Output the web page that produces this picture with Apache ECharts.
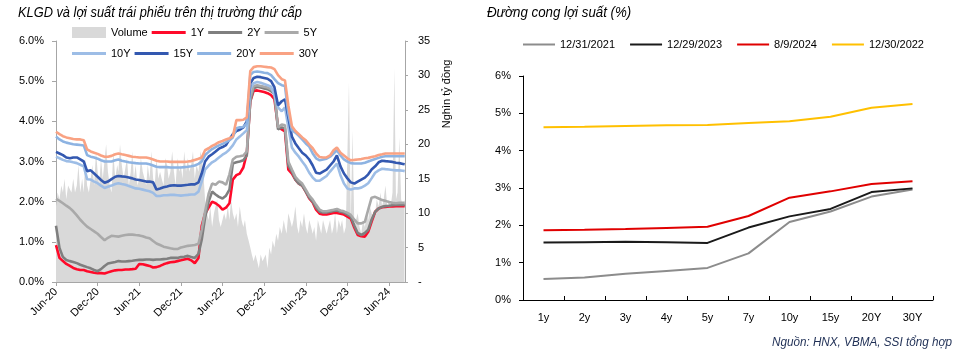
<!DOCTYPE html>
<html><head><meta charset="utf-8">
<script src="https://cdn.jsdelivr.net/npm/echarts@6/dist/echarts.min.js"></script>
<style>html,body{margin:0;padding:0;background:#fff}#c{width:960px;height:359px}</style>
</head><body><div id="c"></div>
<script>
const FONT = "'Liberation Sans Narrow','Arial Narrow','Liberation Sans',Arial,sans-serif";

// ---------- Left chart data ----------
// semi-monthly observation dates (1st and 16th), Jun-2020 .. 9-Aug-2024
const lineDates = (function () {
  const out = [];
  for (let y = 2020, m = 6; y < 2024 || (y === 2024 && m <= 7); m === 12 ? (y++, m = 1) : m++) {
    const mm = String(m).padStart(2, '0');
    out.push(y + '-' + mm + '-01', y + '-' + mm + '-16');
  }
  out.push('2024-08-01', '2024-08-09');
  return out;
})();

const y1Y = [0.92,0.60,0.52,0.45,0.40,0.35,0.32,0.30,0.30,0.27,
  0.25,0.23,0.22,0.22,0.21,0.24,0.27,0.29,0.30,0.30,
  0.31,0.31,0.32,0.33,0.45,0.44,0.42,0.40,0.36,0.37,
  0.40,0.44,0.47,0.49,0.50,0.52,0.54,0.56,0.58,0.54,
  0.47,0.60,1.40,1.70,1.85,2.00,1.96,1.90,1.80,1.85,
  1.96,2.55,2.66,2.70,2.85,3.20,4.50,4.76,4.77,4.75,
  4.73,4.70,4.65,4.55,3.86,3.80,3.75,2.80,2.70,2.55,
  2.45,2.40,2.25,2.08,1.98,1.80,1.70,1.68,1.68,1.70,
  1.72,1.72,1.70,1.68,1.63,1.58,1.35,1.17,1.14,1.13,
  1.25,1.50,1.75,1.83,1.86,1.87,1.88,1.88,1.89,1.89,
  1.89,1.89];
const y2Y = [1.40,0.85,0.62,0.55,0.52,0.50,0.47,0.43,0.40,0.37,
  0.34,0.30,0.27,0.32,0.40,0.46,0.48,0.50,0.52,0.51,
  0.51,0.52,0.53,0.54,0.55,0.55,0.56,0.56,0.55,0.56,
  0.56,0.57,0.58,0.60,0.60,0.60,0.62,0.63,0.65,0.62,
  0.60,0.70,1.05,1.60,2.00,2.25,2.18,2.12,2.08,2.15,
  2.30,2.95,2.98,3.00,3.03,3.15,4.50,4.82,4.86,4.84,
  4.82,4.80,4.75,4.68,3.80,3.85,3.82,2.90,2.75,2.55,
  2.45,2.40,2.25,2.10,2.00,1.85,1.75,1.73,1.73,1.75,
  1.77,1.78,1.75,1.73,1.68,1.63,1.40,1.22,1.17,1.22,
  1.30,1.55,1.75,1.83,1.87,1.89,1.90,1.91,1.92,1.92,
  1.92,1.92];
const y5Y = [2.07,2.02,1.96,1.90,1.84,1.76,1.66,1.55,1.46,1.38,
  1.32,1.26,1.20,1.12,1.04,1.10,1.15,1.14,1.13,1.15,
  1.17,1.18,1.18,1.17,1.16,1.14,1.11,1.09,1.02,0.96,
  0.92,0.88,0.86,0.84,0.82,0.82,0.86,0.88,0.90,0.91,
  0.92,0.95,1.30,1.75,2.20,2.45,2.42,2.50,2.48,2.42,
  2.68,3.05,3.12,3.13,3.15,3.25,4.60,4.88,4.90,4.88,
  4.86,4.84,4.80,4.72,3.85,3.92,3.90,3.00,2.80,2.62,
  2.52,2.45,2.30,2.15,2.05,1.92,1.80,1.76,1.76,1.78,
  1.80,1.82,1.78,1.76,1.72,1.67,1.55,1.46,1.46,1.50,
  1.80,2.10,2.12,2.08,2.04,2.02,1.99,1.97,1.96,1.97,
  1.97,1.97];
const y10Y = [3.12,3.08,3.04,3.01,3.00,2.98,2.96,2.92,2.88,2.56,
  2.55,2.50,2.46,2.40,2.34,2.37,2.40,2.44,2.46,2.44,
  2.42,2.39,2.36,2.33,2.32,2.30,2.28,2.26,2.22,2.14,
  2.14,2.16,2.16,2.17,2.17,2.16,2.15,2.16,2.17,2.18,
  2.18,2.25,2.50,2.80,2.90,2.98,3.03,3.10,3.17,3.22,
  3.30,3.40,3.55,3.62,3.70,3.78,4.80,4.95,4.98,4.96,
  4.93,4.90,4.86,4.65,4.35,4.25,4.35,3.85,3.35,3.22,
  3.12,3.00,2.88,2.72,2.60,2.52,2.52,2.58,2.64,2.75,
  2.85,2.95,2.66,2.45,2.33,2.30,2.33,2.33,2.35,2.40,
  2.46,2.58,2.72,2.78,2.82,2.81,2.80,2.79,2.78,2.78,
  2.77,2.76];
const y15Y = [3.24,3.20,3.16,3.10,3.08,3.10,3.10,3.05,3.00,2.76,
  2.78,2.70,2.62,2.54,2.47,2.50,2.56,2.62,2.64,2.63,
  2.62,2.60,2.58,2.55,2.54,2.52,2.50,2.50,2.48,2.30,
  2.33,2.36,2.38,2.40,2.41,2.40,2.40,2.41,2.42,2.43,
  2.43,2.48,2.70,3.00,3.12,3.18,3.25,3.32,3.36,3.41,
  3.55,3.68,3.76,3.79,3.85,4.00,4.95,5.08,5.11,5.10,
  5.08,5.06,5.00,4.85,4.40,4.50,4.55,4.10,3.62,3.45,
  3.33,3.22,3.15,3.05,2.90,2.72,2.70,2.75,2.80,2.90,
  3.00,3.15,2.88,2.70,2.58,2.48,2.45,2.50,2.55,2.60,
  2.68,2.80,2.88,2.98,3.02,3.01,3.00,2.99,2.97,2.96,
  2.94,2.93];
const y20Y = [3.62,3.55,3.50,3.47,3.45,3.43,3.42,3.41,3.40,3.16,
  3.12,3.10,3.07,3.03,3.00,3.00,3.00,3.03,3.05,3.02,
  3.00,2.98,2.97,2.96,2.95,2.95,2.95,2.93,2.90,2.87,
  2.86,2.86,2.86,2.85,2.85,2.85,2.85,2.86,2.87,2.88,
  2.90,2.94,3.00,3.16,3.24,3.31,3.36,3.40,3.44,3.48,
  3.53,3.60,3.83,3.85,3.86,3.95,5.15,5.23,5.24,5.23,
  5.21,5.20,5.15,5.05,4.95,4.90,4.88,4.20,3.78,3.72,
  3.64,3.55,3.45,3.37,3.20,3.08,3.03,3.05,3.07,3.12,
  3.20,3.28,3.15,3.05,3.00,2.96,2.95,2.95,2.95,2.97,
  3.00,3.03,3.06,3.09,3.12,3.13,3.13,3.13,3.13,3.13,
  3.13,3.13];
const y30Y = [3.74,3.68,3.63,3.60,3.58,3.56,3.55,3.55,3.53,3.30,
  3.25,3.22,3.19,3.15,3.12,3.12,3.14,3.18,3.20,3.18,
  3.16,3.14,3.12,3.11,3.10,3.10,3.10,3.08,3.05,3.02,
  3.00,3.00,3.00,2.99,2.99,2.99,2.99,2.99,3.00,3.01,
  3.04,3.07,3.10,3.28,3.33,3.39,3.43,3.48,3.51,3.55,
  3.58,3.62,4.03,4.03,4.04,4.10,5.25,5.35,5.37,5.37,
  5.36,5.35,5.34,5.30,5.15,5.05,5.02,4.40,3.88,3.76,
  3.68,3.60,3.53,3.42,3.33,3.20,3.11,3.10,3.10,3.15,
  3.28,3.35,3.22,3.15,3.08,3.03,3.04,3.05,3.06,3.08,
  3.09,3.11,3.13,3.16,3.18,3.20,3.20,3.20,3.20,3.20,
  3.20,3.20];

// weekly trading volume (Nghìn tỷ đồng), 4 observations per month (days 1, 8, 16, 24)
const volMonthStart = '2020-06';
const volDays = [1, 8, 16, 24];
const volume = [
  11,13,12,14, 13,15,12,14, 14,13,15,13, 14,17,13,15, 13,18,14,13, 15,17,14,19, 16,14,18,15,
  15,20,16,14, 13,19,15,17, 16,20,17,15, 15,18,14,16, 19,15,17,14, 15,18,16,15,
  14,17,15,19, 15,14,18,15, 16,15,14,18, 17,15,16,19, 16,14,18,16, 17,15,19,16,
  18,16,17,19, 15,17,16,19, 18,16,12,10, 9,11,8,10, 10,12,9,8, 8,10,9,11,
  9,12,10,9, 10,8,11,9, 8,9,7,6, 5,4,3,4, 3,2,4,3, 3,4,2,5,
  4,6,5,7, 6,8,7,9, 8,7,10,9, 8,9,11,8, 7,9,8,10, 8,7,9,8,
  7,8,6,9, 8,7,9,8, 7,8,9,7, 8,10,7,9, 8,9,7,8, 8,29,9,22,
  8,9,10,8, 7,9,8,10, 9,11,10,9, 10,12,11,13, 11,12,14,11, 12,11,13,31,
  12,13,21,12, 11,12
];

const xTickLabels = ['Jun-20','Dec-20','Jun-21','Dec-21','Jun-22','Dec-22','Jun-23','Dec-23','Jun-24'];
const lineNames = ['1Y','2Y','5Y','10Y','15Y','20Y','30Y'];
const lineValues = [y1Y, y2Y, y5Y, y10Y, y15Y, y20Y, y30Y];
const lineColors = ['#ff0a2a','#7f7f7f','#a9a9a9','#9dbde6','#3358b0','#8db3e2','#f9a283'];

// ---------- Right chart data ----------
const tenors = ['1y','2y','3y','4y','5y','7y','10y','15y','20Y','30Y'];
const curveNames = ['12/31/2021','12/29/2023','8/9/2024','12/30/2022'];
const curve20211231 = [0.56,0.60,0.70,0.78,0.86,1.25,2.09,2.37,2.77,2.96];
const curve20231229 = [1.54,1.55,1.56,1.55,1.53,1.94,2.24,2.44,2.89,2.99];
const curve20240809 = [1.87,1.88,1.90,1.93,1.96,2.25,2.74,2.91,3.11,3.18];
const curve20221230 = [4.63,4.64,4.66,4.68,4.69,4.74,4.79,4.91,5.15,5.25];
const curveValues = [curve20211231, curve20231229, curve20240809, curve20221230];
const curveColors = ['#8c8c8c','#1a1a1a','#e00000','#ffc000'];

// ---------- helpers ----------
function monthOffset(s) {
  const p = s.split('-').map(Number);
  const dim = new Date(p[0], p[1], 0).getDate();
  return (p[0] - 2020) * 12 + (p[1] - 6) + (p[2] - 1) / dim;
}
const volDates = [];
(function () {
  let [y, m] = volMonthStart.split('-').map(Number);
  let i = 0;
  while (i < volume.length) {
    for (const d of volDays) {
      if (i >= volume.length) break;
      volDates.push(y + '-' + String(m).padStart(2, '0') + '-' + String(d).padStart(2, '0'));
      i++;
    }
    m++; if (m > 12) { m = 1; y++; }
  }
})();

const chart = echarts.init(document.getElementById('c'), null, { renderer: 'canvas' });
const axisGray = '#a6a6a6';
const txt = { fontFamily: FONT, fontSize: 11, color: '#000' };
const LEFT_ICON = 'path://M0,0H34V3H0Z';
const RIGHT_ICON = 'path://M0,0H32V2H0Z';

const series = [{
  name: 'Volume', type: 'line', xAxisIndex: 0, yAxisIndex: 1, symbol: 'none',
  data: volume.map((v, i) => [monthOffset(volDates[i]), v]),
  lineStyle: { width: 0, color: '#d9d9d9' }, areaStyle: { color: '#d9d9d9', opacity: 1 },
  itemStyle: { color: '#d9d9d9' }, z: 1, silent: true
}];
lineNames.forEach((n, k) => {
  series.push({
    name: n, type: 'line', xAxisIndex: 0, yAxisIndex: 0, symbol: 'none',
    data: lineValues[k].map((v, i) => [monthOffset(lineDates[i]), v]),
    lineStyle: { color: lineColors[k], width: 2.6 }, itemStyle: { color: lineColors[k] }, z: 2 + k
  });
});
curveNames.forEach((n, k) => {
  series.push({
    name: n, type: 'line', xAxisIndex: 1, yAxisIndex: 2, symbol: 'none',
    data: curveValues[k],
    lineStyle: { color: curveColors[k], width: 2 }, itemStyle: { color: curveColors[k] }
  });
});

const titleFont = 'italic 14px ' + FONT;
chart.setOption({
  animation: false,
  textStyle: { fontFamily: FONT },
  legend: [
    { data: [{ name: 'Volume', icon: 'rect' }, { name: '1Y', icon: LEFT_ICON }, { name: '2Y', icon: LEFT_ICON }, { name: '5Y', icon: LEFT_ICON }],
      left: 67, top: 22, itemWidth: 34, itemHeight: 11, itemGap: 4, textStyle: Object.assign({ width: 40 }, txt) },
    { data: ['10Y', '15Y', '20Y', '30Y'].map(n => ({ name: n, icon: LEFT_ICON })),
      left: 67, top: 43, itemWidth: 34, itemHeight: 11, itemGap: 4, textStyle: Object.assign({ width: 40 }, txt) },
    { data: curveNames.map(n => ({ name: n, icon: RIGHT_ICON })),
      left: 518, top: 34, itemWidth: 32, itemHeight: 11, itemGap: 15, textStyle: txt }
  ],
  grid: [
    { left: 56, right: 555, top: 41, bottom: 77 },
    { left: 523, right: 27, top: 76, bottom: 59 }
  ],
  xAxis: [
    { type: 'value', gridIndex: 0, min: 0, max: 50.3, interval: 6,
      axisLine: { show: true, lineStyle: { color: axisGray } },
      axisTick: { show: true, length: 4, lineStyle: { color: axisGray } },
      splitLine: { show: false },
      axisLabel: Object.assign({ rotate: 45, margin: 8, showMaxLabel: false,
        formatter: v => (Math.abs(v / 6 - Math.round(v / 6)) < 1e-6 ? (xTickLabels[Math.round(v / 6)] || '') : '') }, txt) },
    { type: 'category', gridIndex: 1, data: tenors, boundaryGap: true,
      axisLine: { show: true, lineStyle: { color: '#000' } },
      axisTick: { show: true, inside: true, length: 4, lineStyle: { color: '#000' } },
      axisLabel: Object.assign({ margin: 12 }, txt) }
  ],
  yAxis: [
    { type: 'value', gridIndex: 0, min: 0, max: 6, interval: 1, position: 'left',
      axisLine: { show: true, lineStyle: { color: axisGray } },
      axisTick: { show: true, length: 4, lineStyle: { color: axisGray } },
      splitLine: { show: false },
      axisLabel: Object.assign({ margin: 12, formatter: v => v.toFixed(1) + '%' }, txt) },
    { type: 'value', gridIndex: 0, min: 0, max: 35, interval: 5, position: 'right',
      axisLine: { show: true, lineStyle: { color: axisGray } },
      axisTick: { show: true, length: 3, lineStyle: { color: axisGray } },
      splitLine: { show: false },
      axisLabel: Object.assign({ margin: 13, formatter: v => (v === 0 ? '-' : String(v)) }, txt) },
    { type: 'value', gridIndex: 1, min: 0, max: 6, interval: 1,
      axisLine: { show: true, lineStyle: { color: '#000' } },
      axisTick: { show: true, length: 4, lineStyle: { color: '#000' } },
      splitLine: { show: false },
      axisLabel: Object.assign({ margin: 12, formatter: v => v + '%' }, txt) }
  ],
  graphic: [
    { type: 'text', x: 18, y: 13, scaleX: 0.915,
      style: { text: 'KLGD và lợi suất trái phiếu trên thị trường thứ cấp', font: titleFont, fill: '#000', align: 'left', verticalAlign: 'middle' } },
    { type: 'text', x: 487, y: 13, scaleX: 0.95,
      style: { text: 'Đường cong lợi suất (%)', font: titleFont, fill: '#000', align: 'left', verticalAlign: 'middle' } },
    { type: 'text', x: 952, y: 342, scaleX: 0.9,
      style: { text: 'Nguồn: HNX, VBMA, SSI tổng hợp', font: 'italic 13px ' + FONT, fill: '#1f2f55', align: 'right', verticalAlign: 'middle' } },
    { type: 'text', x: 447, y: 94, rotation: Math.PI / 2,
      style: { text: 'Nghìn tỷ đồng', font: '11px ' + FONT, fill: '#000', align: 'center', verticalAlign: 'middle' } }
  ],
  series: series
});
</script></body></html>
